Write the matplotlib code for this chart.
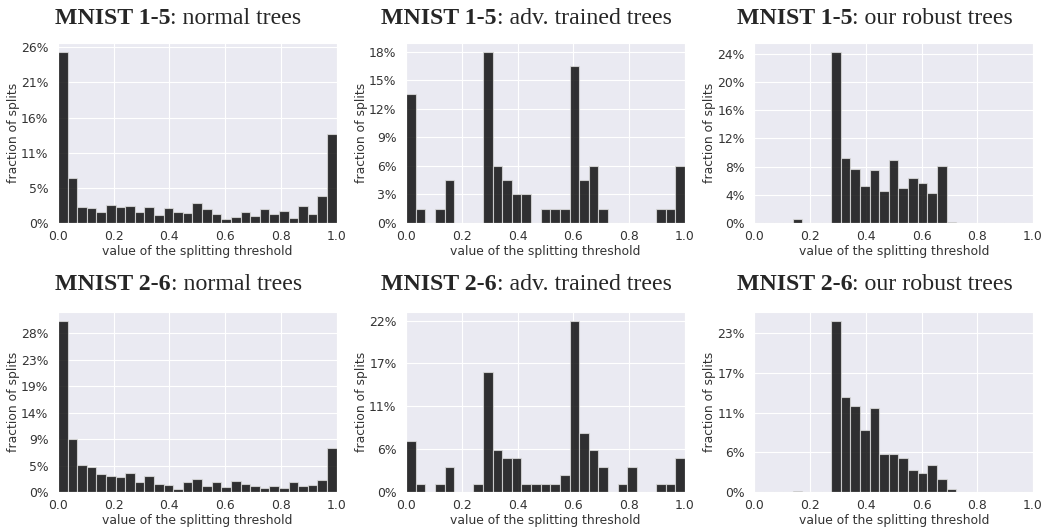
import numpy as np
import matplotlib
matplotlib.use("Agg")
import matplotlib.pyplot as plt
import seaborn as sns

sns.set_style("darkgrid")
plt.rcParams['font.family'] = ['DejaVu Sans']

N_BINS = 29
edges = np.linspace(0, 1, N_BINS + 1)

# fraction of splits (%) per bin
mnist15_normal = [25.7, 6.8, 2.46, 2.26, 1.61, 2.66, 2.46, 2.56, 1.71, 2.46,
                  1.25, 2.26, 1.61, 1.51, 3.01, 2.16, 1.36, 0.65, 0.85, 1.61,
                  1.10, 2.06, 1.41, 1.86, 0.75, 2.56, 1.31, 4.02, 13.3]
mnist15_adv = [13.5, 1.5, 0, 1.5, 4.5, 0, 0, 0, 18.0, 6.0,
               4.5, 3.0, 3.0, 0, 1.5, 1.5, 1.5, 16.5, 4.5, 6.0,
               1.5, 0, 0, 0, 0, 0, 1.5, 1.5, 6.0]
mnist15_robust = [0, 0, 0, 0, 0.52, 0, 0, 0.05, 24.3, 9.2,
                  7.7, 5.3, 7.5, 4.6, 9.0, 4.9, 6.4, 5.7, 4.2, 8.1,
                  0.1, 0, 0, 0, 0, 0, 0, 0, 0]
mnist26_normal = [30.2, 9.36, 4.8, 4.4, 3.1, 2.8, 2.6, 3.3, 1.75, 2.9,
                  1.46, 1.29, 0.53, 1.75, 2.28, 1.05, 1.75, 0.94, 2.0, 1.35,
                  1.1, 0.7, 1.1, 0.7, 1.7, 1.0, 1.17, 2.16, 7.84]
mnist26_adv = [6.6, 1.1, 0, 1.1, 3.3, 0, 0, 1.1, 15.5, 5.5,
               4.4, 4.4, 1.1, 1.1, 1.1, 1.1, 2.2, 22.2, 7.7, 5.5,
               3.3, 0, 1.1, 3.3, 0, 0, 1.1, 1.1, 4.4]
mnist26_robust = [0, 0, 0, 0, 0.1, 0, 0, 0, 24.6, 13.6,
                  12.3, 8.9, 12.1, 5.5, 5.5, 4.9, 3.2, 2.8, 3.9, 1.9,
                  0.5, 0, 0, 0, 0, 0, 0, 0, 0]

datasets = ["MNIST 1-5", "MNIST 1-5", "MNIST 1-5", "MNIST 2-6", "MNIST 2-6", "MNIST 2-6"]
models = ["normal trees", "adv. trained trees", "our robust trees"] * 2
values = [mnist15_normal, mnist15_adv, mnist15_robust,
          mnist26_normal, mnist26_adv, mnist26_robust]

# y tick step (in %) and the printed labels
tick_steps = [5.27, 3.0, 4.0, 4.66, 5.55, 5.7]
tick_labels = [["0%", "5%", "11%", "16%", "21%", "26%"],
               ["0%", "3%", "6%", "9%", "12%", "15%", "18%"],
               ["0%", "4%", "8%", "12%", "16%", "20%", "24%"],
               ["0%", "5%", "9%", "14%", "19%", "23%", "28%"],
               ["0%", "6%", "11%", "17%", "22%"],
               ["0%", "6%", "11%", "17%", "23%"]]

fig, axes = plt.subplots(2, 3, figsize=(10.47, 5.31), dpi=100)
plt.subplots_adjust(left=0.0554, right=0.9866, top=0.919, bottom=0.0734,
                    wspace=0.25, hspace=0.494)

FS = 8.9
titles = []
for i, ax in enumerate(axes.flat):
    ax.bar(edges[:-1], values[i], width=1 / N_BINS, align='edge',
           color='black', alpha=0.8, edgecolor='#dddddd', linewidth=0.8)
    ax.set_xlim(0, 1)
    ax.set_xticks([0, 0.2, 0.4, 0.6, 0.8, 1.0])
    ax.set_xticklabels(["0.0", "0.2", "0.4", "0.6", "0.8", "1.0"])
    labs = tick_labels[i]
    ax.set_yticks([k * tick_steps[i] for k in range(len(labs))])
    ax.set_yticklabels(labs)
    ax.tick_params(axis='x', labelsize=FS, colors='#333333', pad=1.8)
    ax.tick_params(axis='y', labelsize=FS, colors='#333333', pad=3.5)
    ax.set_xlabel("value of the splitting threshold", fontsize=FS, labelpad=1.3, color='#333333')
    ax.set_ylabel("fraction of splits", fontsize=FS, labelpad=1, color='#333333')

    ty = 1.106 if i < 3 else 1.122
    t1 = ax.text(0.5, ty, datasets[i], transform=ax.transAxes, ha='left', va='baseline',
                 fontsize=17.2, fontweight='bold', family='Liberation Serif')
    t2 = ax.annotate(": " + models[i], xy=(1, 0), xycoords=t1, ha='left', va='bottom',
                     fontsize=17.2, family='Liberation Serif')
    titles.append((ax, t1, t2))

# center the two-part titles over each panel (incl. its y label)
fig.canvas.draw()
r = fig.canvas.get_renderer()
for ax, t1, t2 in titles:
    w = t1.get_window_extent(r).width + t2.get_window_extent(r).width
    aw = ax.get_window_extent(r).width
    t1.set_x(0.5 - (w / 2 + 19) / aw)

fig.savefig("out.png", dpi=100)
